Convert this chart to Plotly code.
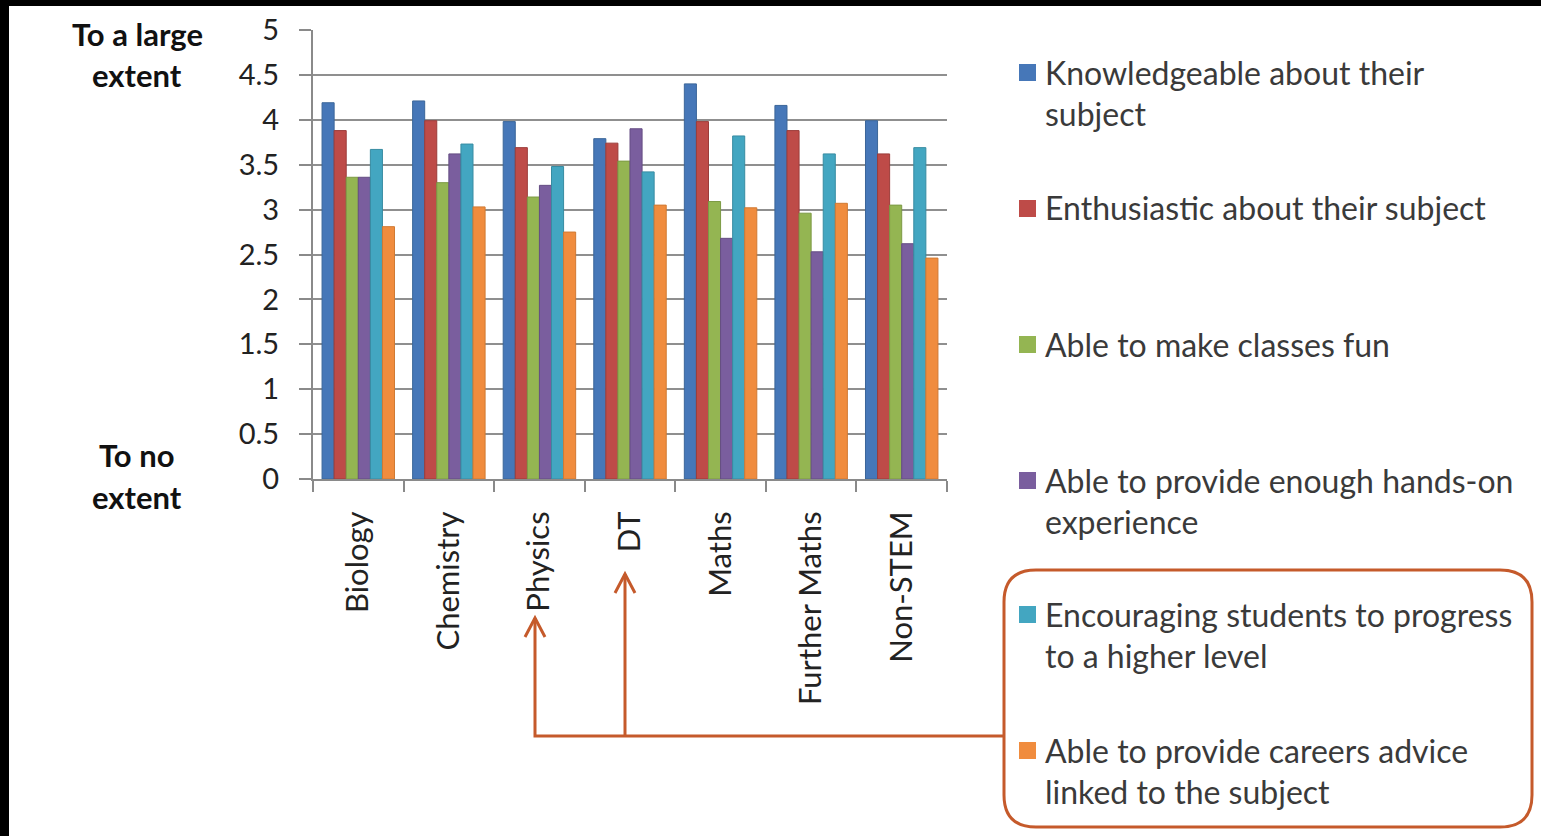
import plotly.graph_objects as go

categories = ["Biology", "Chemistry", "Physics", "DT", "Maths", "Further Maths", "Non-STEM"]
series_names = [
    "Knowledgeable about their<br>subject",
    "Enthusiastic about their subject",
    "Able to make classes fun",
    "Able to provide enough hands-on<br>experience",
    "Encouraging students to progress<br>to a higher level",
    "Able to provide careers advice<br>linked to the subject",
]
knowledgeable = [4.19, 4.21, 3.98, 3.79, 4.40, 4.16, 3.99]
enthusiastic = [3.88, 3.99, 3.69, 3.74, 3.98, 3.88, 3.62]
fun = [3.36, 3.30, 3.14, 3.54, 3.09, 2.96, 3.05]
hands_on = [3.36, 3.62, 3.27, 3.90, 2.68, 2.53, 2.62]
encouraging = [3.67, 3.73, 3.48, 3.42, 3.82, 3.62, 3.69]
careers = [2.81, 3.03, 2.75, 3.05, 3.02, 3.07, 2.46]
series_values = [knowledgeable, enthusiastic, fun, hands_on, encouraging, careers]
y_ticks = [0, 0.5, 1, 1.5, 2, 2.5, 3, 3.5, 4, 4.5, 5]

colors = ["#4677B8", "#BE4B48", "#94B552", "#7A5E9E", "#43A6C1", "#F08C3E"]
edge = ["#3B6699", "#9C3C3A", "#7C9A44", "#654D83", "#388CA2", "#D07A33"]

W, H = 1541, 836
PL, PR, PT, PB = 313, 947, 30, 479
FONT = "Lato"
ACC = "#C55A2B"


def px(x):
    return (x - PL) / (PR - PL)


def py(y):
    return (PB - y) / (PB - PT)


fig = go.Figure()
for name, vals, c, e in zip(series_names, series_values, colors, edge):
    fig.add_trace(go.Bar(x=categories, y=vals, name=name.replace("<br>", " "),
                         marker=dict(color=c, line=dict(color=e, width=1)),
                         showlegend=False))

shapes = []
annotations = []

# custom legend
leg_y = [72, 208, 344, 480, 614, 750]
for name, c, yy in zip(series_names, colors, leg_y):
    shapes.append(dict(type="rect", xref="paper", yref="paper",
                       x0=px(1019), x1=px(1036), y0=py(yy - 8), y1=py(yy + 9),
                       fillcolor=c, line=dict(width=0)))
    for i, line in enumerate(name.split("<br>")):
        annotations.append(dict(xref="paper", yref="paper", x=px(1043), y=py(yy + i * 41),
                                xanchor="left", yanchor="middle", showarrow=False,
                                text=line, font=dict(family=FONT, size=32, color="#3a3a3a")))

# y-axis extent labels
for txt, yy in [("To a large", 34), ("extent", 75), ("To no", 455), ("extent", 497)]:
    annotations.append(dict(xref="paper", yref="paper", x=px(137), y=py(yy),
                            xanchor="center", yanchor="middle", showarrow=False,
                            text="<b>" + txt + "</b>",
                            font=dict(family=FONT, size=31, color="#111")))

# rounded box
x0, x1, y0, y1, r = 1004, 1532, 570, 827, 32
def P(x, y):
    return f"{px(x)},{py(y)}"
path = (f"M {P(x0 + r, y0)} L {P(x1 - r, y0)} Q {P(x1, y0)} {P(x1, y0 + r)} "
        f"L {P(x1, y1 - r)} Q {P(x1, y1)} {P(x1 - r, y1)} "
        f"L {P(x0 + r, y1)} Q {P(x0, y1)} {P(x0, y1 - r)} "
        f"L {P(x0, y0 + r)} Q {P(x0, y0)} {P(x0 + r, y0)} Z")
shapes.append(dict(type="path", xref="paper", yref="paper", path=path,
                   line=dict(color=ACC, width=3)))

# arrows
ya = 736
shapes.append(dict(type="path", xref="paper", yref="paper",
                   path=f"M {P(1004, ya)} L {P(535, ya)} L {P(535, 618)}",
                   line=dict(color=ACC, width=3)))
shapes.append(dict(type="path", xref="paper", yref="paper",
                   path=f"M {P(625, ya)} L {P(625, 574)}",
                   line=dict(color=ACC, width=3)))
for ax, ay in [(535, 618), (625, 574)]:
    shapes.append(dict(type="path", xref="paper", yref="paper",
                       path=f"M {P(ax - 10, ay + 19)} L {P(ax, ay)} L {P(ax + 10, ay + 19)}",
                       line=dict(color=ACC, width=3)))

# black frame edges
shapes.append(dict(type="rect", xref="paper", yref="paper", x0=px(-5), x1=px(9),
                   y0=py(H + 5), y1=py(-5), fillcolor="black", line=dict(width=0)))
shapes.append(dict(type="rect", xref="paper", yref="paper", x0=px(-5), x1=px(W + 5),
                   y0=py(6), y1=py(-5), fillcolor="black", line=dict(width=0)))

fig.update_layout(
    width=W, height=H,
    margin=dict(l=PL, r=W - PR, t=PT, b=H - PB),
    paper_bgcolor="white", plot_bgcolor="white",
    barmode="group", bargap=0.2, bargroupgap=0,
    font=dict(family=FONT, color="#222"),
    shapes=shapes, annotations=annotations,
    xaxis=dict(showgrid=False, showline=True, linecolor="#8a8a8a", linewidth=2,
               ticks="outside", tickson="boundaries", ticklen=11, tickcolor="#8a8a8a",
               tickwidth=2, tickangle=-90, tickfont=dict(family=FONT, size=31, color="#222"),
               ticklabelstandoff=18),
    yaxis=dict(range=[0, 5], tickvals=y_ticks, ticktext=[f"{v:g}" for v in y_ticks],
               showgrid=True, gridcolor="#8f8f8f", gridwidth=2,
               showline=True, linecolor="#8a8a8a", linewidth=2,
               ticks="outside", ticklen=12, tickcolor="#8a8a8a", tickwidth=2,
               tickfont=dict(family=FONT, size=29, color="#222"), ticklabelstandoff=14,
               zeroline=False),
)

fig.write_html("out.html")
